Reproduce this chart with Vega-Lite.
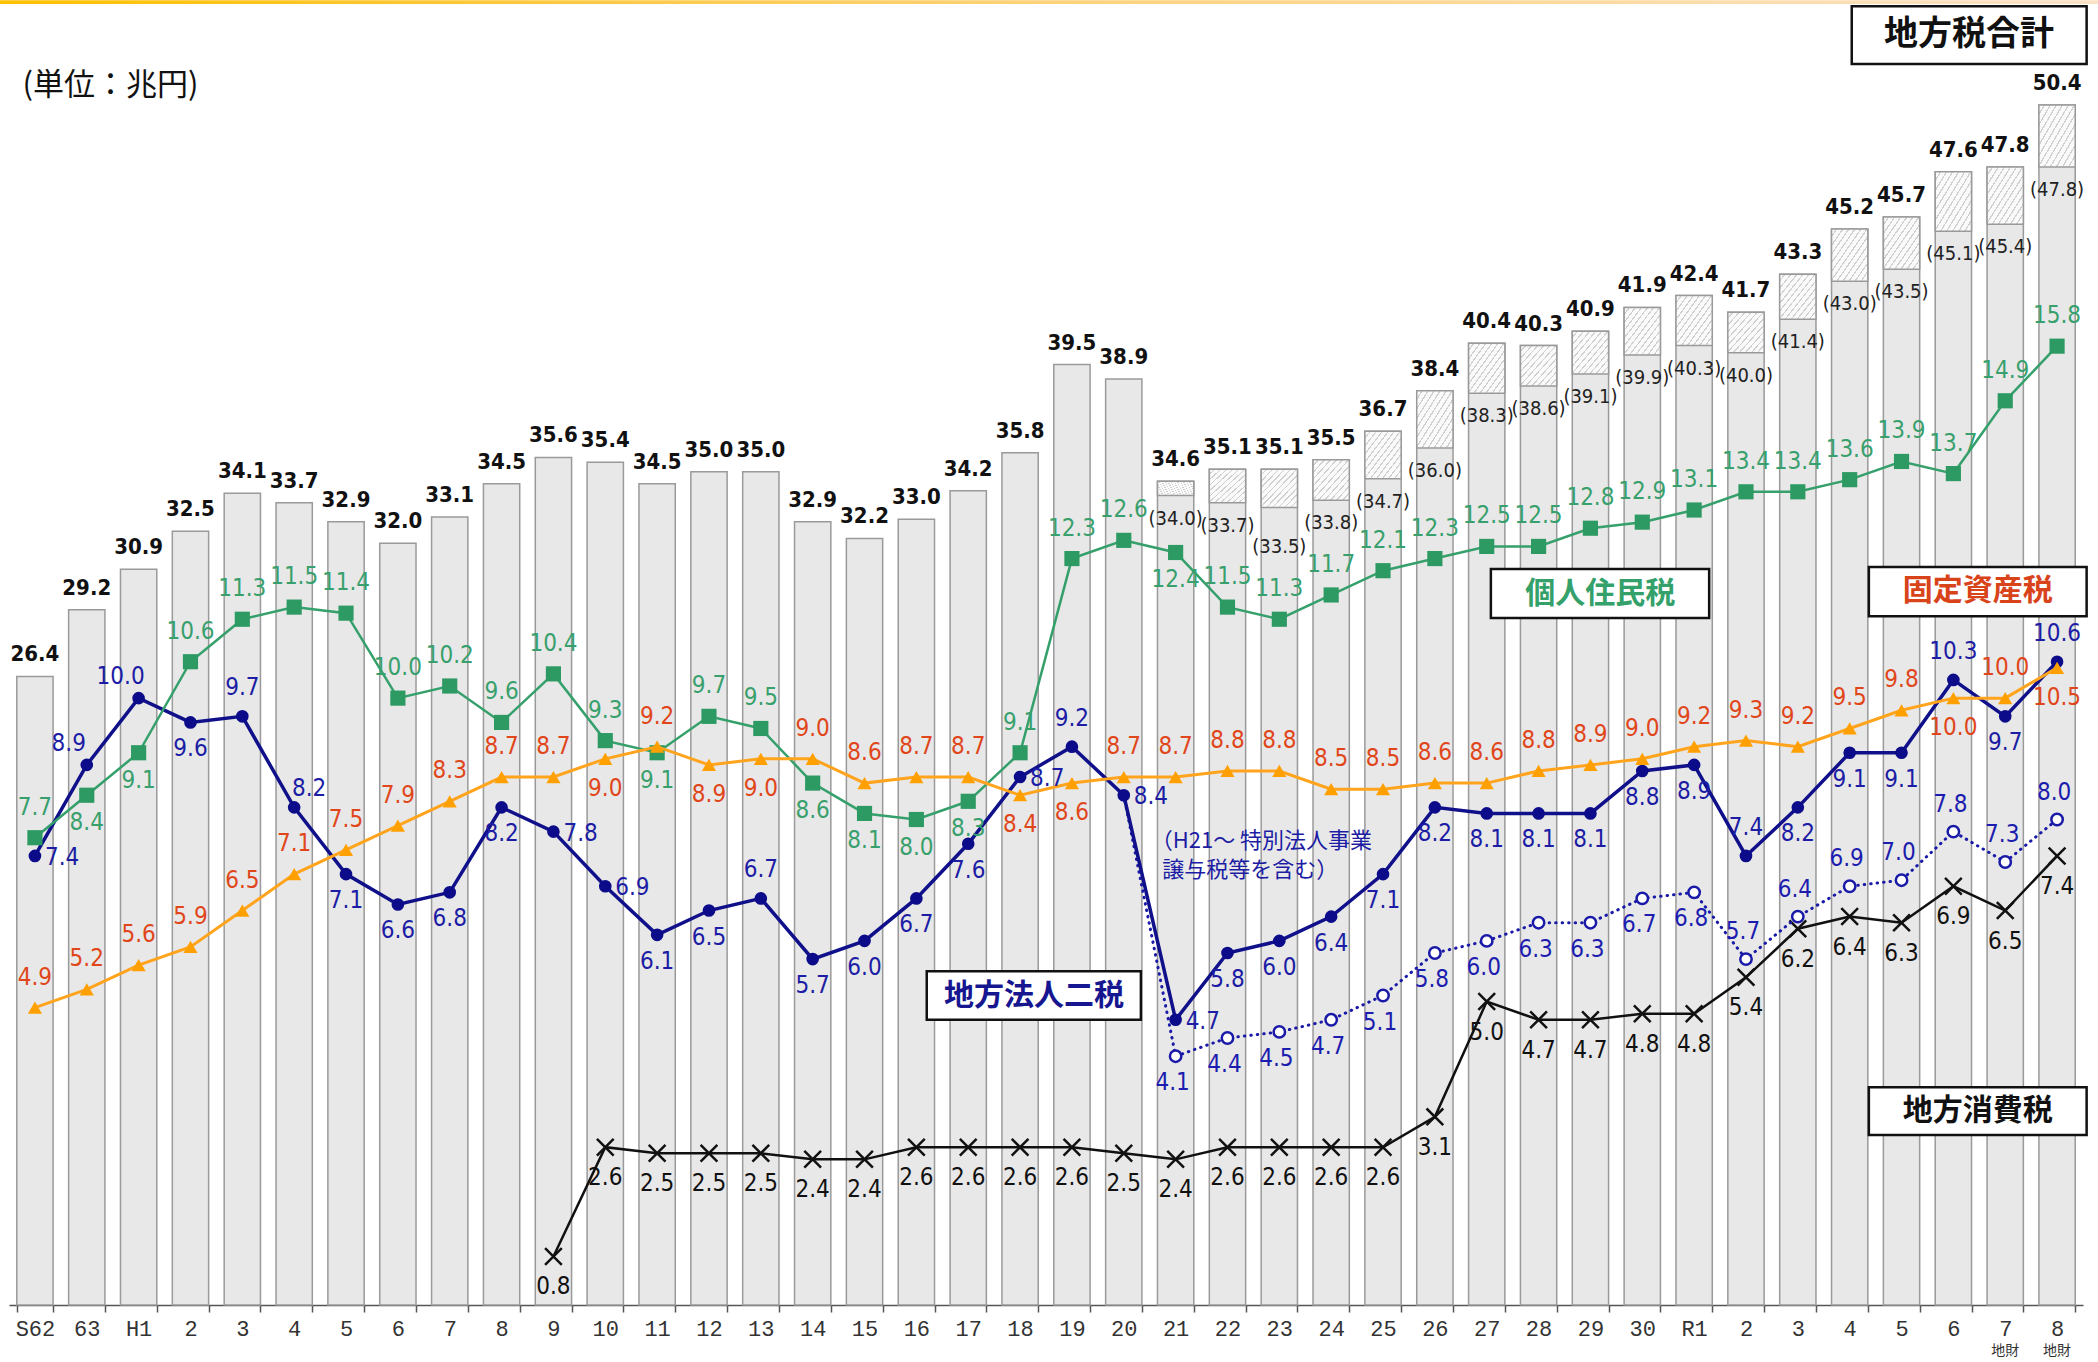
{
"$schema": "https://vega.github.io/schema/vega-lite/v6.json",
"width": 2074, "height": 1238,
"autosize": {"type": "none"},
"padding": {"left": 9, "top": 67, "right": 15, "bottom": 57},
"background": "white",
"config": {"view": {"stroke": null}},
"data": {"values": [
{"year":"S62","total":26.4,"paren":null,"jumin":7.7,"kotei":4.9,"hojin":7.4,"hojinEx":null,"shohi":null},
{"year":"S63","total":29.2,"paren":null,"jumin":8.4,"kotei":5.2,"hojin":8.9,"hojinEx":null,"shohi":null},
{"year":"H1","total":30.9,"paren":null,"jumin":9.1,"kotei":5.6,"hojin":10.0,"hojinEx":null,"shohi":null},
{"year":"H2","total":32.5,"paren":null,"jumin":10.6,"kotei":5.9,"hojin":9.6,"hojinEx":null,"shohi":null},
{"year":"H3","total":34.1,"paren":null,"jumin":11.3,"kotei":6.5,"hojin":9.7,"hojinEx":null,"shohi":null},
{"year":"H4","total":33.7,"paren":null,"jumin":11.5,"kotei":7.1,"hojin":8.2,"hojinEx":null,"shohi":null},
{"year":"H5","total":32.9,"paren":null,"jumin":11.4,"kotei":7.5,"hojin":7.1,"hojinEx":null,"shohi":null},
{"year":"H6","total":32.0,"paren":null,"jumin":10.0,"kotei":7.9,"hojin":6.6,"hojinEx":null,"shohi":null},
{"year":"H7","total":33.1,"paren":null,"jumin":10.2,"kotei":8.3,"hojin":6.8,"hojinEx":null,"shohi":null},
{"year":"H8","total":34.5,"paren":null,"jumin":9.6,"kotei":8.7,"hojin":8.2,"hojinEx":null,"shohi":null},
{"year":"H9","total":35.6,"paren":null,"jumin":10.4,"kotei":8.7,"hojin":7.8,"hojinEx":null,"shohi":0.8},
{"year":"H10","total":35.4,"paren":null,"jumin":9.3,"kotei":9.0,"hojin":6.9,"hojinEx":null,"shohi":2.6},
{"year":"H11","total":34.5,"paren":null,"jumin":9.1,"kotei":9.2,"hojin":6.1,"hojinEx":null,"shohi":2.5},
{"year":"H12","total":35.0,"paren":null,"jumin":9.7,"kotei":8.9,"hojin":6.5,"hojinEx":null,"shohi":2.5},
{"year":"H13","total":35.0,"paren":null,"jumin":9.5,"kotei":9.0,"hojin":6.7,"hojinEx":null,"shohi":2.5},
{"year":"H14","total":32.9,"paren":null,"jumin":8.6,"kotei":9.0,"hojin":5.7,"hojinEx":null,"shohi":2.4},
{"year":"H15","total":32.2,"paren":null,"jumin":8.1,"kotei":8.6,"hojin":6.0,"hojinEx":null,"shohi":2.4},
{"year":"H16","total":33.0,"paren":null,"jumin":8.0,"kotei":8.7,"hojin":6.7,"hojinEx":null,"shohi":2.6},
{"year":"H17","total":34.2,"paren":null,"jumin":8.3,"kotei":8.7,"hojin":7.6,"hojinEx":null,"shohi":2.6},
{"year":"H18","total":35.8,"paren":null,"jumin":9.1,"kotei":8.4,"hojin":8.7,"hojinEx":null,"shohi":2.6},
{"year":"H19","total":39.5,"paren":null,"jumin":12.3,"kotei":8.6,"hojin":9.2,"hojinEx":null,"shohi":2.6},
{"year":"H20","total":38.9,"paren":null,"jumin":12.6,"kotei":8.7,"hojin":8.4,"hojinEx":8.4,"shohi":2.5},
{"year":"H21","total":34.6,"paren":34.0,"jumin":12.4,"kotei":8.7,"hojin":4.7,"hojinEx":4.1,"shohi":2.4},
{"year":"H22","total":35.1,"paren":33.7,"jumin":11.5,"kotei":8.8,"hojin":5.8,"hojinEx":4.4,"shohi":2.6},
{"year":"H23","total":35.1,"paren":33.5,"jumin":11.3,"kotei":8.8,"hojin":6.0,"hojinEx":4.5,"shohi":2.6},
{"year":"H24","total":35.5,"paren":33.8,"jumin":11.7,"kotei":8.5,"hojin":6.4,"hojinEx":4.7,"shohi":2.6},
{"year":"H25","total":36.7,"paren":34.7,"jumin":12.1,"kotei":8.5,"hojin":7.1,"hojinEx":5.1,"shohi":2.6},
{"year":"H26","total":38.4,"paren":36.0,"jumin":12.3,"kotei":8.6,"hojin":8.2,"hojinEx":5.8,"shohi":3.1},
{"year":"H27","total":40.4,"paren":38.3,"jumin":12.5,"kotei":8.6,"hojin":8.1,"hojinEx":6.0,"shohi":5.0},
{"year":"H28","total":40.3,"paren":38.6,"jumin":12.5,"kotei":8.8,"hojin":8.1,"hojinEx":6.3,"shohi":4.7},
{"year":"H29","total":40.9,"paren":39.1,"jumin":12.8,"kotei":8.9,"hojin":8.1,"hojinEx":6.3,"shohi":4.7},
{"year":"H30","total":41.9,"paren":39.9,"jumin":12.9,"kotei":9.0,"hojin":8.8,"hojinEx":6.7,"shohi":4.8},
{"year":"R1","total":42.4,"paren":40.3,"jumin":13.1,"kotei":9.2,"hojin":8.9,"hojinEx":6.8,"shohi":4.8},
{"year":"R2","total":41.7,"paren":40.0,"jumin":13.4,"kotei":9.3,"hojin":7.4,"hojinEx":5.7,"shohi":5.4},
{"year":"R3","total":43.3,"paren":41.4,"jumin":13.4,"kotei":9.2,"hojin":8.2,"hojinEx":6.4,"shohi":6.2},
{"year":"R4","total":45.2,"paren":43.0,"jumin":13.6,"kotei":9.5,"hojin":9.1,"hojinEx":6.9,"shohi":6.4},
{"year":"R5","total":45.7,"paren":43.5,"jumin":13.9,"kotei":9.8,"hojin":9.1,"hojinEx":7.0,"shohi":6.3},
{"year":"R6","total":47.6,"paren":45.1,"jumin":13.7,"kotei":10.0,"hojin":10.3,"hojinEx":7.8,"shohi":6.9},
{"year":"R7","total":47.8,"paren":45.4,"jumin":14.9,"kotei":10.0,"hojin":9.7,"hojinEx":7.3,"shohi":6.5},
{"year":"R8","total":50.4,"paren":47.8,"jumin":15.8,"kotei":10.5,"hojin":10.6,"hojinEx":8.0,"shohi":7.4}
]},
"layer": [
{
"encoding": {"x": {"field": "year", "type": "ordinal",
  "scale": {"domain": ["S62","S63","H1","H2","H3","H4","H5","H6","H7","H8","H9","H10","H11","H12","H13","H14","H15","H16","H17","H18","H19","H20","H21","H22","H23","H24","H25","H26","H27","H28","H29","H30","R1","R2","R3","R4","R5","R6","R7","R8"], "paddingInner": 0.3, "paddingOuter": 0.15},
  "axis": {"title": null, "labelAngle": 0, "labelExpr": "!isString(datum.value) ? '' : (datum.value == 'S62' || datum.value == 'H1' || datum.value == 'R1' ? datum.value : substring(datum.value, 1))", "labelFont": "Liberation Mono", "labelFontSize": 22, "labelColor": "#333", "labelPadding": 6, "domainColor": "#555", "domainWidth": 1.5, "tickColor": "#555", "tickWidth": 1.5, "tickSize": 7, "tickBand": "extent", "grid": false}}},
"layer": [
 {"mark": {"type": "bar", "fill": "#e8e8e8", "stroke": "#9a9a9a", "strokeWidth": 1.5},
  "encoding": {"y": {"field": "total", "type": "quantitative", "scale": {"domain": [0, 52]}, "axis": null}}},
 {"transform": [{"filter": {"field": "paren", "valid": true}}],
  "mark": {"type": "bar", "stroke": "#9a9a9a", "strokeWidth": 1.5,
   "fill": {"gradient": "linear", "x1": 0, "y1": 0, "x2": 1, "y2": 1, "stops": [
    {"offset": 0, "color": "#fafafa"},
    {"offset": 0.0633, "color": "#fafafa"}, {"offset": 0.0633, "color": "#d0d0d0"}, {"offset": 0.0833, "color": "#d0d0d0"}, {"offset": 0.0833, "color": "#fafafa"},
    {"offset": 0.1467, "color": "#fafafa"}, {"offset": 0.1467, "color": "#d0d0d0"}, {"offset": 0.1667, "color": "#d0d0d0"}, {"offset": 0.1667, "color": "#fafafa"},
    {"offset": 0.23, "color": "#fafafa"}, {"offset": 0.23, "color": "#d0d0d0"}, {"offset": 0.25, "color": "#d0d0d0"}, {"offset": 0.25, "color": "#fafafa"},
    {"offset": 0.3133, "color": "#fafafa"}, {"offset": 0.3133, "color": "#d0d0d0"}, {"offset": 0.3333, "color": "#d0d0d0"}, {"offset": 0.3333, "color": "#fafafa"},
    {"offset": 0.3967, "color": "#fafafa"}, {"offset": 0.3967, "color": "#d0d0d0"}, {"offset": 0.4167, "color": "#d0d0d0"}, {"offset": 0.4167, "color": "#fafafa"},
    {"offset": 0.48, "color": "#fafafa"}, {"offset": 0.48, "color": "#d0d0d0"}, {"offset": 0.5, "color": "#d0d0d0"}, {"offset": 0.5, "color": "#fafafa"},
    {"offset": 0.5633, "color": "#fafafa"}, {"offset": 0.5633, "color": "#d0d0d0"}, {"offset": 0.5833, "color": "#d0d0d0"}, {"offset": 0.5833, "color": "#fafafa"},
    {"offset": 0.6467, "color": "#fafafa"}, {"offset": 0.6467, "color": "#d0d0d0"}, {"offset": 0.6667, "color": "#d0d0d0"}, {"offset": 0.6667, "color": "#fafafa"},
    {"offset": 0.73, "color": "#fafafa"}, {"offset": 0.73, "color": "#d0d0d0"}, {"offset": 0.75, "color": "#d0d0d0"}, {"offset": 0.75, "color": "#fafafa"},
    {"offset": 0.8133, "color": "#fafafa"}, {"offset": 0.8133, "color": "#d0d0d0"}, {"offset": 0.8333, "color": "#d0d0d0"}, {"offset": 0.8333, "color": "#fafafa"},
    {"offset": 0.8967, "color": "#fafafa"}, {"offset": 0.8967, "color": "#d0d0d0"}, {"offset": 0.9167, "color": "#d0d0d0"}, {"offset": 0.9167, "color": "#fafafa"},
    {"offset": 0.98, "color": "#fafafa"}, {"offset": 0.98, "color": "#d0d0d0"}, {"offset": 1, "color": "#d0d0d0"}]}},
  "encoding": {"y": {"field": "paren", "type": "quantitative", "scale": {"domain": [0, 52]}, "axis": null}, "y2": {"field": "total"}}},
 {"mark": {"type": "text", "dy": -22, "font": "DejaVu Sans Condensed, sans-serif", "fontSize": 22, "fontWeight": "bold", "color": "#111"},
  "encoding": {"y": {"field": "total", "type": "quantitative", "scale": {"domain": [0, 52]}, "axis": null}, "text": {"field": "total", "format": ".1f"}}},
 {"transform": [{"filter": {"field": "paren", "valid": true}}, {"filter": {"not": {"field": "year", "oneOf": ["H23"]}}}, {"calculate": "'(' + format(datum.paren, '.1f') + ')'", "as": "parenLabel"}],
  "mark": {"type": "text", "dy": 23, "font": "DejaVu Sans Condensed, sans-serif", "fontSize": 20, "color": "#222"},
  "encoding": {"y": {"field": "paren", "type": "quantitative", "scale": {"domain": [0, 52]}, "axis": null}, "text": {"field": "parenLabel"}}},
 {"transform": [{"filter": {"field": "year", "oneOf": ["H23"]}}, {"calculate": "'(' + format(datum.paren, '.1f') + ')'", "as": "parenLabel"}],
  "mark": {"type": "text", "dy": 40, "font": "DejaVu Sans Condensed, sans-serif", "fontSize": 20, "color": "#222"},
  "encoding": {"y": {"field": "paren", "type": "quantitative", "scale": {"domain": [0, 52]}, "axis": null}, "text": {"field": "parenLabel"}}},

 {"transform": [{"filter": {"field": "shohi", "valid": true}}],
  "mark": {"type": "line", "color": "#111", "strokeWidth": 2.5},
  "encoding": {"y": {"field": "shohi", "type": "quantitative", "scale": {"domain": [0, 20.4]}, "axis": null}}},
 {"transform": [{"filter": {"field": "shohi", "valid": true}}],
  "mark": {"type": "point", "shape": "M -1 -1 L 1 1 M -1 1 L 1 -1", "filled": false, "stroke": "#111", "strokeWidth": 2.5, "size": 280, "opacity": 1},
  "encoding": {"y": {"field": "shohi", "type": "quantitative", "scale": {"domain": [0, 20.4]}, "axis": null}}},
 {"transform": [{"filter": {"field": "hojinEx", "valid": true}}],
  "mark": {"type": "line", "color": "#1a1aa8", "strokeWidth": 3, "strokeDash": [0.5, 6], "strokeCap": "round"},
  "encoding": {"y": {"field": "hojinEx", "type": "quantitative", "scale": {"domain": [0, 20.4]}, "axis": null}}},
 {"transform": [{"filter": {"field": "hojinEx", "valid": true}}, {"filter": {"not": {"field": "year", "oneOf": ["H20"]}}}],
  "mark": {"type": "point", "shape": "circle", "filled": true, "fill": "white", "stroke": "#1a1aa8", "strokeWidth": 2.5, "size": 130, "opacity": 1},
  "encoding": {"y": {"field": "hojinEx", "type": "quantitative", "scale": {"domain": [0, 20.4]}, "axis": null}}},
 {"mark": {"type": "line", "color": "#10108a", "strokeWidth": 3.5},
  "encoding": {"y": {"field": "hojin", "type": "quantitative", "scale": {"domain": [0, 20.4]}, "axis": null}}},
 {"mark": {"type": "point", "shape": "circle", "filled": true, "color": "#0c0c8a", "size": 160, "opacity": 1},
  "encoding": {"y": {"field": "hojin", "type": "quantitative", "scale": {"domain": [0, 20.4]}, "axis": null}}},
 {"mark": {"type": "line", "color": "#35a06b", "strokeWidth": 2.5},
  "encoding": {"y": {"field": "jumin", "type": "quantitative", "scale": {"domain": [0, 20.4]}, "axis": null}}},
 {"mark": {"type": "point", "shape": "square", "filled": true, "color": "#2e9a63", "size": 230, "opacity": 1},
  "encoding": {"y": {"field": "jumin", "type": "quantitative", "scale": {"domain": [0, 20.4]}, "axis": null}}},
 {"mark": {"type": "line", "color": "#ffa41c", "strokeWidth": 3},
  "encoding": {"y": {"field": "kotei", "type": "quantitative", "scale": {"domain": [0, 20.4]}, "axis": null}}},
 {"mark": {"type": "point", "shape": "triangle-up", "filled": true, "color": "#ffa000", "size": 200, "opacity": 1},
  "encoding": {"y": {"field": "kotei", "type": "quantitative", "scale": {"domain": [0, 20.4]}, "axis": null}}},

 {"transform": [{"filter": {"field": "shohi", "valid": true}}],
  "mark": {"type": "text", "dy": 31, "font": "DejaVu Sans Condensed, sans-serif", "fontSize": 24, "color": "#111"},
  "encoding": {"y": {"field": "shohi", "type": "quantitative", "scale": {"domain": [0, 20.4]}, "axis": null}, "text": {"field": "shohi", "format": ".1f"}}},
 {"transform": [{"filter": {"field": "hojinEx", "valid": true}}, {"filter": {"field": "year", "oneOf": ["H21","H22","H23","H24","H25","H26","H27","H28","H29","H30","R1"]}}],
  "mark": {"type": "text", "dy": 27, "dx": -3, "font": "DejaVu Sans Condensed, sans-serif", "fontSize": 24, "color": "#1c1cae"},
  "encoding": {"y": {"field": "hojinEx", "type": "quantitative", "scale": {"domain": [0, 20.4]}, "axis": null}, "text": {"field": "hojinEx", "format": ".1f"}}},
 {"transform": [{"filter": {"field": "year", "oneOf": ["R2","R3","R4","R5","R6","R7","R8"]}}],
  "mark": {"type": "text", "dy": -27, "dx": -3, "font": "DejaVu Sans Condensed, sans-serif", "fontSize": 24, "color": "#1c1cae"},
  "encoding": {"y": {"field": "hojinEx", "type": "quantitative", "scale": {"domain": [0, 20.4]}, "axis": null}, "text": {"field": "hojinEx", "format": ".1f"}}},

 {"transform": [{"filter": {"field": "year", "oneOf": ["S62","H9","H10","H18","H20","H21"]}}],
  "mark": {"type": "text", "align": "left", "dx": 10, "dy": 2, "font": "DejaVu Sans Condensed, sans-serif", "fontSize": 24, "color": "#1c1ca4"},
  "encoding": {"y": {"field": "hojin", "type": "quantitative", "scale": {"domain": [0, 20.4]}, "axis": null}, "text": {"field": "hojin", "format": ".1f"}}},
 {"transform": [{"filter": {"field": "year", "oneOf": ["S63","H1"]}}],
  "mark": {"type": "text", "dx": -18, "dy": -21, "font": "DejaVu Sans Condensed, sans-serif", "fontSize": 24, "color": "#1c1ca4"},
  "encoding": {"y": {"field": "hojin", "type": "quantitative", "scale": {"domain": [0, 20.4]}, "axis": null}, "text": {"field": "hojin", "format": ".1f"}}},
 {"transform": [{"filter": {"field": "year", "oneOf": ["H4"]}}],
  "mark": {"type": "text", "dx": 15, "dy": -18, "font": "DejaVu Sans Condensed, sans-serif", "fontSize": 24, "color": "#1c1ca4"},
  "encoding": {"y": {"field": "hojin", "type": "quantitative", "scale": {"domain": [0, 20.4]}, "axis": null}, "text": {"field": "hojin", "format": ".1f"}}},
 {"transform": [{"filter": {"field": "year", "oneOf": ["H3","H13","H19","R2","R6","R8"]}}],
  "mark": {"type": "text", "dy": -28, "font": "DejaVu Sans Condensed, sans-serif", "fontSize": 24, "color": "#1c1ca4"},
  "encoding": {"y": {"field": "hojin", "type": "quantitative", "scale": {"domain": [0, 20.4]}, "axis": null}, "text": {"field": "hojin", "format": ".1f"}}},
 {"transform": [{"filter": {"not": {"field": "year", "oneOf": ["S62","H9","H10","H18","H20","H21","S63","H1","H4","H3","H13","H19","R2","R6","R8"]}}}],
  "mark": {"type": "text", "dy": 27, "font": "DejaVu Sans Condensed, sans-serif", "fontSize": 24, "color": "#1c1ca4"},
  "encoding": {"y": {"field": "hojin", "type": "quantitative", "scale": {"domain": [0, 20.4]}, "axis": null}, "text": {"field": "hojin", "format": ".1f"}}},

 {"transform": [{"filter": {"not": {"field": "year", "oneOf": ["S63","H1","H11","H14","H15","H16","H17","H21"]}}}],
  "mark": {"type": "text", "dy": -30, "font": "DejaVu Sans Condensed, sans-serif", "fontSize": 24, "color": "#38a06c"},
  "encoding": {"y": {"field": "jumin", "type": "quantitative", "scale": {"domain": [0, 20.4]}, "axis": null}, "text": {"field": "jumin", "format": ".1f"}}},
 {"transform": [{"filter": {"field": "year", "oneOf": ["S63","H1","H11","H14","H15","H16","H17","H21"]}}],
  "mark": {"type": "text", "dy": 28, "font": "DejaVu Sans Condensed, sans-serif", "fontSize": 24, "color": "#38a06c"},
  "encoding": {"y": {"field": "jumin", "type": "quantitative", "scale": {"domain": [0, 20.4]}, "axis": null}, "text": {"field": "jumin", "format": ".1f"}}},

 {"transform": [{"filter": {"not": {"field": "year", "oneOf": ["H10","H12","H13","H18","H19","R6","R8"]}}}],
  "mark": {"type": "text", "dy": -30, "font": "DejaVu Sans Condensed, sans-serif", "fontSize": 24, "color": "#e0461a"},
  "encoding": {"y": {"field": "kotei", "type": "quantitative", "scale": {"domain": [0, 20.4]}, "axis": null}, "text": {"field": "kotei", "format": ".1f"}}},
 {"transform": [{"filter": {"field": "year", "oneOf": ["H10","H12","H13","H18","H19","R6","R8"]}}],
  "mark": {"type": "text", "dy": 30, "font": "DejaVu Sans Condensed, sans-serif", "fontSize": 24, "color": "#e0461a"},
  "encoding": {"y": {"field": "kotei", "type": "quantitative", "scale": {"domain": [0, 20.4]}, "axis": null}, "text": {"field": "kotei", "format": ".1f"}}}
],
"resolve": {"scale": {"y": "independent"}}
},
{
"data": {"values": [{}]},
"layer": [
 {"mark": {"type": "rect", "fill": {"gradient": "linear", "x1": 0, "y1": 0, "x2": 1, "y2": 0, "stops": [{"offset": 0, "color": "#ffc000"}, {"offset": 0.5, "color": "#fdd27a"}, {"offset": 1, "color": "#fbe2c6"}]}},
  "encoding": {"x": {"datum": -0.2, "type": "quantitative", "scale": {"domain": [0, 40]}, "axis": null}, "x2": {"datum": 40.4},
   "y": {"datum": 21.5, "type": "quantitative", "scale": {"domain": [0, 20.4]}, "axis": null}, "y2": {"datum": 21.44}}},
 {"mark": {"type": "text", "text": "(単位：兆円)", "align": "left", "font": "Noto Sans CJK JP", "fontSize": 31, "color": "#111"},
  "encoding": {"x": {"datum": 0.26, "type": "quantitative", "scale": {"domain": [0, 40]}, "axis": null},
   "y": {"datum": 20.09, "type": "quantitative", "scale": {"domain": [0, 20.4]}, "axis": null}}},
 {"mark": {"type": "rect", "fill": "white", "stroke": "#111", "strokeWidth": 2.5},
  "encoding": {"x": {"datum": 35.54, "type": "quantitative", "scale": {"domain": [0, 40]}, "axis": null}, "x2": {"datum": 40.07},
   "y": {"datum": 21.4, "type": "quantitative", "scale": {"domain": [0, 20.4]}, "axis": null}, "y2": {"datum": 20.45}}},
 {"mark": {"type": "text", "text": "地方税合計", "font": "Noto Sans CJK JP", "fontSize": 34, "fontWeight": "bold", "color": "#111"},
  "encoding": {"x": {"datum": 37.8, "type": "quantitative", "scale": {"domain": [0, 40]}, "axis": null},
   "y": {"datum": 20.93, "type": "quantitative", "scale": {"domain": [0, 20.4]}, "axis": null}}},
 {"mark": {"type": "rect", "fill": "white", "stroke": "#111", "strokeWidth": 2.5},
  "encoding": {"x": {"datum": 28.58, "type": "quantitative", "scale": {"domain": [0, 40]}, "axis": null}, "x2": {"datum": 32.79},
   "y": {"datum": 12.13, "type": "quantitative", "scale": {"domain": [0, 20.4]}, "axis": null}, "y2": {"datum": 11.32}}},
 {"mark": {"type": "text", "text": "個人住民税", "font": "Noto Sans CJK JP", "fontSize": 30, "fontWeight": "bold", "color": "#34a06a"},
  "encoding": {"x": {"datum": 30.69, "type": "quantitative", "scale": {"domain": [0, 40]}, "axis": null},
   "y": {"datum": 11.72, "type": "quantitative", "scale": {"domain": [0, 20.4]}, "axis": null}}},
 {"mark": {"type": "rect", "fill": "white", "stroke": "#111", "strokeWidth": 2.5},
  "encoding": {"x": {"datum": 35.87, "type": "quantitative", "scale": {"domain": [0, 40]}, "axis": null}, "x2": {"datum": 40.07},
   "y": {"datum": 12.16, "type": "quantitative", "scale": {"domain": [0, 20.4]}, "axis": null}, "y2": {"datum": 11.35}}},
 {"mark": {"type": "text", "text": "固定資産税", "font": "Noto Sans CJK JP", "fontSize": 30, "fontWeight": "bold", "color": "#d9431a"},
  "encoding": {"x": {"datum": 37.97, "type": "quantitative", "scale": {"domain": [0, 40]}, "axis": null},
   "y": {"datum": 11.76, "type": "quantitative", "scale": {"domain": [0, 20.4]}, "axis": null}}},
 {"mark": {"type": "rect", "fill": "white", "stroke": "#111", "strokeWidth": 2.5},
  "encoding": {"x": {"datum": 17.7, "type": "quantitative", "scale": {"domain": [0, 40]}, "axis": null}, "x2": {"datum": 21.83},
   "y": {"datum": 5.5, "type": "quantitative", "scale": {"domain": [0, 20.4]}, "axis": null}, "y2": {"datum": 4.7}}},
 {"mark": {"type": "text", "text": "地方法人二税", "font": "Noto Sans CJK JP", "fontSize": 30, "fontWeight": "bold", "color": "#161690"},
  "encoding": {"x": {"datum": 19.77, "type": "quantitative", "scale": {"domain": [0, 40]}, "axis": null},
   "y": {"datum": 5.1, "type": "quantitative", "scale": {"domain": [0, 20.4]}, "axis": null}}},
 {"mark": {"type": "rect", "fill": "white", "stroke": "#111", "strokeWidth": 2.5},
  "encoding": {"x": {"datum": 35.87, "type": "quantitative", "scale": {"domain": [0, 40]}, "axis": null}, "x2": {"datum": 40.07},
   "y": {"datum": 3.59, "type": "quantitative", "scale": {"domain": [0, 20.4]}, "axis": null}, "y2": {"datum": 2.8}}},
 {"mark": {"type": "text", "text": "地方消費税", "font": "Noto Sans CJK JP", "fontSize": 30, "fontWeight": "bold", "color": "#111"},
  "encoding": {"x": {"datum": 37.97, "type": "quantitative", "scale": {"domain": [0, 40]}, "axis": null},
   "y": {"datum": 3.2, "type": "quantitative", "scale": {"domain": [0, 20.4]}, "axis": null}}},
 {"mark": {"type": "text", "text": "（H21～ 特別法人事業", "align": "left", "font": "Noto Sans CJK JP", "fontSize": 22, "color": "#1c1ca4"},
  "encoding": {"x": {"datum": 22.02, "type": "quantitative", "scale": {"domain": [0, 40]}, "axis": null},
   "y": {"datum": 7.65, "type": "quantitative", "scale": {"domain": [0, 20.4]}, "axis": null}}},
 {"mark": {"type": "text", "text": "譲与税等を含む）", "align": "left", "font": "Noto Sans CJK JP", "fontSize": 22, "color": "#1c1ca4"},
  "encoding": {"x": {"datum": 22.24, "type": "quantitative", "scale": {"domain": [0, 40]}, "axis": null},
   "y": {"datum": 7.17, "type": "quantitative", "scale": {"domain": [0, 20.4]}, "axis": null}}},
 {"mark": {"type": "text", "text": "地財", "font": "Noto Sans CJK JP", "fontSize": 14, "color": "#333"},
  "encoding": {"x": {"datum": 38.5, "type": "quantitative", "scale": {"domain": [0, 40]}, "axis": null},
   "y": {"datum": -0.76, "type": "quantitative", "scale": {"domain": [0, 20.4]}, "axis": null}}},
 {"mark": {"type": "text", "text": "地財", "font": "Noto Sans CJK JP", "fontSize": 14, "color": "#333"},
  "encoding": {"x": {"datum": 39.5, "type": "quantitative", "scale": {"domain": [0, 40]}, "axis": null},
   "y": {"datum": -0.76, "type": "quantitative", "scale": {"domain": [0, 20.4]}, "axis": null}}}
]
}
],
"resolve": {"scale": {"x": "independent", "y": "independent"}, "axis": {"x": "independent", "y": "independent"}}
}
